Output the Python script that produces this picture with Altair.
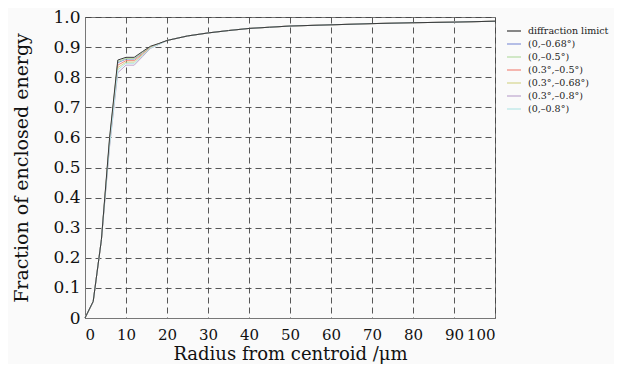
import altair as alt
import pandas as pd

radius = [0, 2, 4, 6, 8, 10, 12, 14, 16, 18, 20, 25, 30, 35, 40, 45, 50, 60, 70, 80, 90, 100]

tail = [0.922, 0.937, 0.947, 0.955, 0.962, 0.966, 0.970, 0.974, 0.978, 0.981, 0.983, 0.986]

diffraction_limit = [0, 0.055, 0.26, 0.600, 0.857, 0.866, 0.866, 0.885, 0.903, 0.912] + tail
f_0_068 = [0, 0.055, 0.26, 0.590, 0.848, 0.860, 0.860, 0.880, 0.900, 0.911] + tail
f_0_05 = [0, 0.055, 0.26, 0.595, 0.852, 0.862, 0.862, 0.882, 0.901, 0.911] + tail
f_03_05 = [0, 0.055, 0.26, 0.585, 0.840, 0.855, 0.855, 0.877, 0.899, 0.910] + tail
f_03_068 = [0, 0.055, 0.26, 0.580, 0.832, 0.850, 0.850, 0.874, 0.898, 0.910] + tail
f_03_08 = [0, 0.055, 0.26, 0.570, 0.815, 0.840, 0.840, 0.868, 0.896, 0.909] + tail
f_0_08 = [0, 0.055, 0.26, 0.575, 0.825, 0.846, 0.846, 0.872, 0.897, 0.909] + tail

series_names = ["diffraction limict", "(0,\u20130.68°)", "(0,\u20130.5°)", "(0.3°,\u20130.5°)",
                "(0.3°,\u20130.68°)", "(0.3°,\u20130.8°)", "(0,\u20130.8°)"]
series_values = [diffraction_limit, f_0_068, f_0_05, f_03_05, f_03_068, f_03_08, f_0_08]
colors = ["#3a3a3a", "#8796d8", "#b5dca5", "#f2897c", "#d6d68e", "#bea6cf", "#b5e6e6"]

rows = []
for name, vals in zip(series_names, series_values):
    for r, v in zip(radius, vals):
        rows.append({"radius": r, "fraction": v, "series": name})
df = pd.DataFrame(rows)

FONT = "DejaVu Serif"

x_enc = alt.X("radius:Q", scale=alt.Scale(domain=[0, 100], nice=False),
              axis=alt.Axis(values=list(range(0, 101, 10)), title="Radius from centroid /μm",
                            labelOverlap=False, labelPadding=9, titlePadding=3,
                            labelFontSize=15, titleFontSize=18))
y_enc = alt.Y("fraction:Q", scale=alt.Scale(domain=[0, 1], nice=False),
              axis=alt.Axis(values=[i / 10 for i in range(11)],
                            labelExpr="datum.value == 0 ? '0' : format(datum.value, '.1f')",
                            labelOverlap=False, labelPadding=5, labelFontSize=17,
                            title="Fraction of enclosed energy", titlePadding=21,
                            titleFontSize=19))
color_enc = alt.Color("series:N", scale=alt.Scale(domain=series_names, range=colors),
                      legend=alt.Legend(title=None, orient="none", legendX=421, legendY=6,
                                        symbolType="stroke", symbolSize=196, symbolStrokeWidth=1.2,
                                        labelFont=FONT, labelFontSize=9.5, rowPadding=-0.4,
                                        labelOffset=6, labelLimit=300, labelColor="#222"))

base = alt.Chart(df).mark_line(strokeWidth=1).encode(x=x_enc, y=y_enc, color=color_enc)

others = base.transform_filter(alt.datum.series != "diffraction limict")
limit = base.transform_filter(alt.datum.series == "diffraction limict")

chart = alt.layer(others, limit).properties(
    width=410, height=301,
    autosize=alt.AutoSizeParams(type="none"),
    padding={"left": 77, "top": 9, "right": 119, "bottom": 46},
    background="#fafafa",
).configure_view(
    stroke="#777", strokeWidth=1, fill="#fafafa"
).configure_axis(
    labelFont=FONT, titleFont=FONT,
    titleFontWeight="normal", labelColor="#111", titleColor="#111",
    domainColor="#777", ticks=False,
    grid=True, gridColor="#444", gridDash=[6, 4], gridWidth=0.9,
)

chart.save("out.html", embed_options={"renderer": "svg", "actions": False})
